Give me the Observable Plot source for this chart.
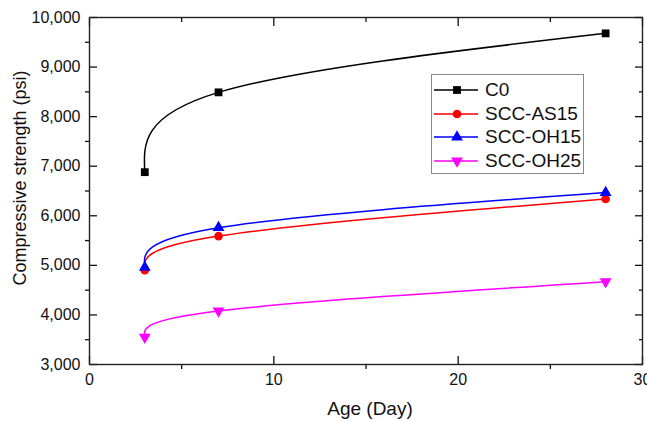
<!DOCTYPE html>
<html>
<head>
<meta charset="utf-8">
<script src="https://cdn.jsdelivr.net/npm/d3@7"></script>
<script src="https://cdn.jsdelivr.net/npm/@observablehq/plot@0.6"></script>
<style>
  html, body { margin: 0; padding: 0; background: #fff; }
  #wrap { position: relative; width: 647px; height: 421px; font-family: "Liberation Sans", Arial, sans-serif; }
  #wrap svg { display: block; }
  .title { position: absolute; color: #111; white-space: nowrap; }
  #legend { position: absolute; left: 431px; top: 74px; width: 153px; height: 100px; border: 1px solid #8a8a8a; background: #fff; box-sizing: border-box; }
  .lrow { position: absolute; left: 0; height: 24px; display: flex; align-items: center; }
  .lrow span { font-size: 19px; color: #111; margin-left: 5px; }
</style>
</head>
<body>
<div id="wrap"></div>
<script>
const days = [3, 7, 28];
const seriesNames = ["C0", "SCC-AS15", "SCC-OH15", "SCC-OH25"];
const c0 = [6880, 8490, 9680];
const as15 = [4900, 5590, 6340];
const oh15 = [4960, 5760, 6470];
const oh25 = [3550, 4080, 4670];
const seriesValues = [c0, as15, oh15, oh25];
const colors = ["#000000", "#ff0000", "#0000ff", "#ff00ff"];
const symbols = ["square", "circle", "triangle", "triangle"];
const rotations = [0, 0, 0, 180];
const radii = [4.4, 4.3, 4.4, 4.4];
const xMajor = [0, 10, 20, 30];
const xMinor = [5, 15, 25];
const yMajor = [3000, 4000, 5000, 6000, 7000, 8000, 9000, 10000];
const yMinor = [3500, 4500, 5500, 6500, 7500, 8500, 9500];
const xTitle = "Age (Day)";
const yTitle = "Compressive strength (psi)";

const data = [];
seriesNames.forEach((s, i) => days.forEach((d, j) => data.push({series: s, day: d, value: seriesValues[i][j]})));

const dotMarks = seriesNames.map((s, i) => Plot.dot(data.filter(d => d.series === s), {
  x: "day", y: "value", symbol: () => symbols[i], r: radii[i], fill: colors[i], stroke: "none", rotate: rotations[i]
}));

const blank = () => "";
const chart = Plot.plot({
  width: 647, height: 421,
  marginLeft: 89, marginRight: 5, marginTop: 17, marginBottom: 57,
  style: {fontFamily: "Liberation Sans, Arial, sans-serif", fontSize: "16px", color: "#111", background: "white"},
  x: {domain: [0, 30]},
  y: {domain: [3000, 10000]},
  color: {domain: seriesNames, range: colors},
  symbol: {type: "identity"},
  marks: [
    // labels
    Plot.axisX(xMajor, {anchor: "bottom", tickSize: 0, tickPadding: 9, label: null, fontSize: 16}),
    Plot.axisY(yMajor, {anchor: "left", tickSize: 0, tickPadding: 9, label: null, fontSize: 16}),
    // ticks bottom/left: major inward, minor outward
    Plot.axisX(xMajor, {anchor: "bottom", tickSize: -8, tickFormat: blank, label: null, strokeWidth: 1.3}),
    Plot.axisX(xMinor, {anchor: "bottom", tickSize: 5, tickFormat: blank, label: null, strokeWidth: 1.3}),
    Plot.axisY(yMajor, {anchor: "left", tickSize: -8, tickFormat: blank, label: null, strokeWidth: 1.3}),
    Plot.axisY(yMinor, {anchor: "left", tickSize: 4, tickFormat: blank, label: null, strokeWidth: 1.3}),
    // ticks top/right: inward
    Plot.axisX(xMajor, {anchor: "top", tickSize: -8, tickFormat: blank, label: null, strokeWidth: 1.3}),
    Plot.axisX(xMinor, {anchor: "top", tickSize: -4, tickFormat: blank, label: null, strokeWidth: 1.3}),
    Plot.axisY(yMajor, {anchor: "right", tickSize: -8, tickFormat: blank, label: null, strokeWidth: 1.3}),
    Plot.axisY(yMinor, {anchor: "right", tickSize: -4, tickFormat: blank, label: null, strokeWidth: 1.3}),
    Plot.frame({stroke: "#222", strokeWidth: 1.4}),
    Plot.line(data, {x: "day", y: "value", z: "series", stroke: "series", curve: "natural", strokeWidth: 1.5}),
    ...dotMarks
  ]
});

const wrap = document.getElementById("wrap");
wrap.appendChild(chart);

const xt = document.createElement("div");
xt.className = "title";
xt.textContent = xTitle;
xt.style.cssText = "left:370px; top:398px; font-size:19px; transform:translateX(-50%);";
wrap.appendChild(xt);

const yt = document.createElement("div");
yt.className = "title";
yt.textContent = yTitle;
yt.style.cssText = "left:20px; top:178px; font-size:18px; transform:translate(-50%,-50%) rotate(-90deg);";
wrap.appendChild(yt);

const legend = document.createElement("div");
legend.id = "legend";
seriesNames.forEach((s, i) => {
  const row = document.createElement("div");
  row.className = "lrow";
  row.style.top = (3 + i * 23.5) + "px";
  const svg = d3.create("svg").attr("width", 48).attr("height", 24).style("overflow", "visible");
  svg.append("line").attr("x1", 2).attr("x2", 46).attr("y1", 12).attr("y2", 12)
    .attr("stroke", colors[i]).attr("stroke-width", 1.5);
  const symType = symbols[i] === "square" ? d3.symbolSquare : symbols[i] === "circle" ? d3.symbolCircle : d3.symbolTriangle;
  svg.append("path").attr("d", d3.symbol(symType, Math.PI * radii[i] * radii[i])())
    .attr("transform", `translate(25,12) rotate(${rotations[i]})`).attr("fill", colors[i]);
  row.appendChild(svg.node());
  const sp = document.createElement("span");
  sp.textContent = s;
  row.appendChild(sp);
  legend.appendChild(row);
});
wrap.appendChild(legend);
</script>
</body>
</html>
